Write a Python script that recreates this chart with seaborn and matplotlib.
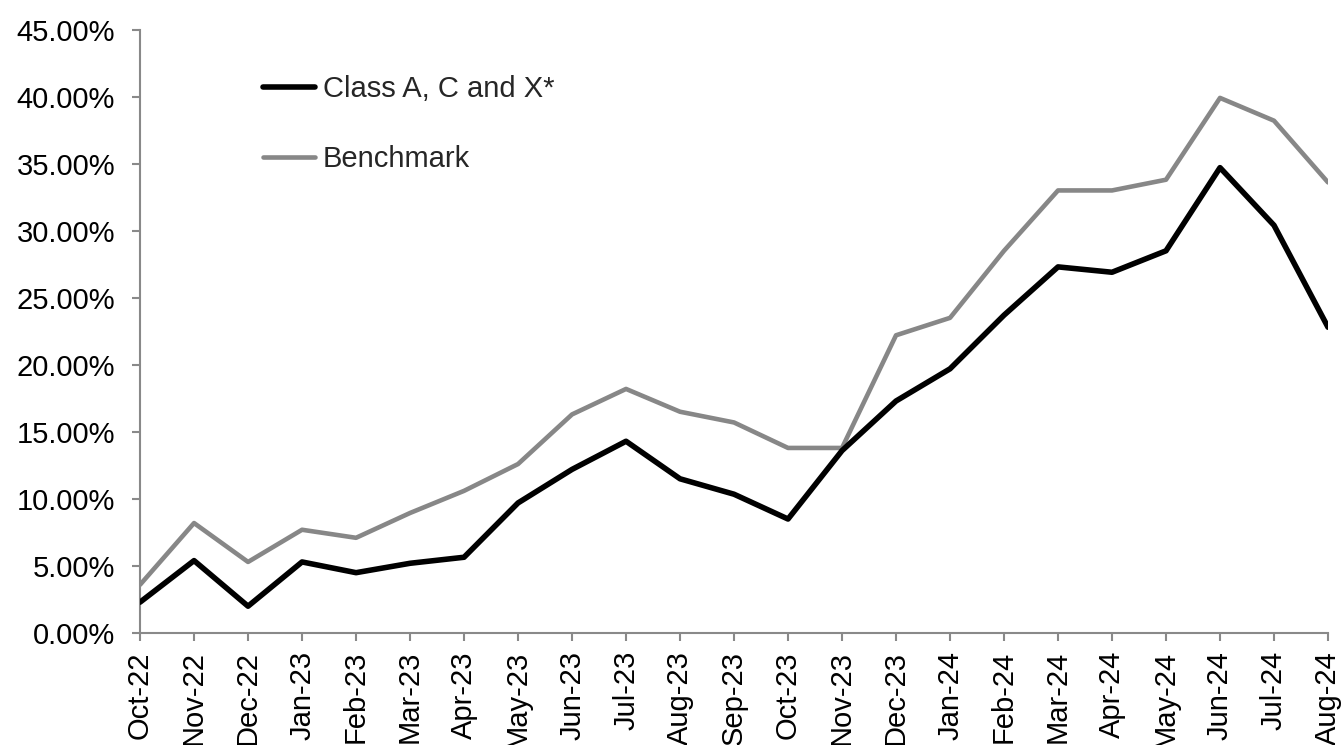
import pandas as pd
import numpy as np
import matplotlib
matplotlib.use('Agg')
import matplotlib.pyplot as plt
import seaborn as sns
from matplotlib.ticker import PercentFormatter

sns.set_theme(style='white')
plt.rcParams['font.family'] = ['Liberation Sans', 'DejaVu Sans']

# Данные
months = ['Oct-22', 'Nov-22', 'Dec-22', 'Jan-23', 'Feb-23', 'Mar-23', 'Apr-23',
          'May-23', 'Jun-23', 'Jul-23', 'Aug-23', 'Sep-23', 'Oct-23', 'Nov-23',
          'Dec-23', 'Jan-24', 'Feb-24', 'Mar-24', 'Apr-24', 'May-24', 'Jun-24',
          'Jul-24', 'Aug-24']
class_acx = [2.3, 5.4, 2.0, 5.3, 4.5, 5.2, 5.65, 9.7, 12.2, 14.3, 11.5, 10.35,
             8.5, 13.6, 17.3, 19.7, 23.7, 27.3, 26.9, 28.5, 34.7, 30.4, 22.8]
benchmark = [3.6, 8.2, 5.3, 7.7, 7.1, 8.95, 10.6, 12.6, 16.3, 18.2, 16.5, 15.7,
             13.8, 13.8, 22.2, 23.5, 28.5, 33.0, 33.0, 33.8, 39.9, 38.2, 33.6]
series_names = ['Class A, C and X*', 'Benchmark']

df = pd.DataFrame({
    'idx': list(range(len(months))) * 2,
    'value': class_acx + benchmark,
    'series': [series_names[0]] * len(months) + [series_names[1]] * len(months),
})

fig = plt.figure(figsize=(13.44, 7.45), dpi=100)
ax = fig.add_axes([0.1042, 0.1503, 0.8839, 0.8101])

sns.lineplot(data=df, x='idx', y='value', hue='series', hue_order=series_names,
             palette={series_names[0]: '#000000', series_names[1]: '#878787'},
             ax=ax, legend=False, sort=False)
ax.lines[0].set_linewidth(4.0)
ax.lines[1].set_linewidth(3.3)
ax.lines[0].set_zorder(3)
ax.lines[1].set_zorder(2)

ax.set_xlim(0, len(months) - 1)
ax.set_ylim(0, 45)
ax.set_yticks(np.arange(0, 46, 5))
ax.yaxis.set_major_formatter(PercentFormatter(decimals=2))
ax.set_xticks(range(len(months)))
ax.set_xticklabels(months, rotation=90)
ax.set_xlabel('')
ax.set_ylabel('')

for side in ['top', 'right']:
    ax.spines[side].set_visible(False)
for side in ['left', 'bottom']:
    ax.spines[side].set_color('#898989')
    ax.spines[side].set_linewidth(1.5)
ax.tick_params(axis='both', which='major', direction='out', length=6, width=1.5,
               color='#898989', labelsize=21, labelcolor='black',
               left=True, bottom=True)
ax.tick_params(axis='y', pad=12)
ax.tick_params(axis='x', pad=7)

handles = [plt.Line2D([], [], color='#000000', lw=4.0, solid_capstyle='round'),
           plt.Line2D([], [], color='#878787', lw=3.3, solid_capstyle='round')]
ax.legend(handles, series_names, loc='upper left', bbox_to_anchor=(0.1035, 0.925),
          frameon=False, fontsize=21, handlelength=1.8, handletextpad=0.25,
          labelspacing=1.45, borderpad=0, borderaxespad=0)

plt.savefig('out.png', dpi=100)
